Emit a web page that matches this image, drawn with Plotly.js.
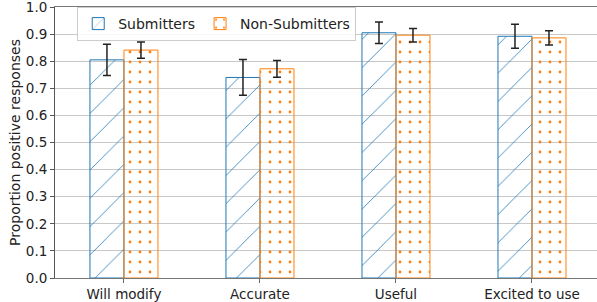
<!DOCTYPE html>
<html>
<head>
<meta charset="utf-8">
<script src="https://cdn.plot.ly/plotly-3.0.1.min.js"></script>
<style>html,body{margin:0;padding:0;background:#fff;}#chart{width:597px;height:302px;}</style>
</head>
<body>
<div id="chart"></div>
<script>
const categories = ["Will modify", "Accurate", "Useful", "Excited to use"];
const submitters = [0.805, 0.740, 0.905, 0.892];
const submittersErr = [0.058, 0.066, 0.040, 0.044];
const nonSubmitters = [0.841, 0.772, 0.896, 0.886];
const nonSubmittersErr = [0.030, 0.031, 0.025, 0.026];
const yTicks = [0, 0.1, 0.2, 0.3, 0.4, 0.5, 0.6, 0.7, 0.8, 0.9, 1.0];

const tickFont = {family: "DejaVu Sans", size: 13.5, color: "#222"};
const bigFont = {family: "DejaVu Sans", size: 14, color: "#222"};
const errStyle = {type: "data", visible: true, color: "#222", thickness: 1.5, width: 4};

const traces = [
  {
    type: "bar", name: "Submitters", x: categories, y: submitters,
    error_y: Object.assign({array: submittersErr}, errStyle),
    marker: {
      color: "rgba(0,0,0,0)",
      line: {color: "#1f77b4", width: 1},
      pattern: {shape: "/", size: 20, solidity: 0.04, fgcolor: "#1f77b4", bgcolor: "rgba(0,0,0,0)"}
    }
  },
  {
    type: "bar", name: "Non-Submitters", x: categories, y: nonSubmitters,
    error_y: Object.assign({array: nonSubmittersErr}, errStyle),
    marker: {
      color: "rgba(0,0,0,0)",
      line: {color: "#ff7f0e", width: 1},
      pattern: {shape: ".", size: 10, solidity: 0.06, fgcolor: "#ff7f0e", bgcolor: "rgba(0,0,0,0)"}
    }
  }
];

const layout = {
  width: 597, height: 302,
  margin: {l: 55, r: 0, t: 7, b: 24, pad: 0},
  paper_bgcolor: "#fff", plot_bgcolor: "#fff",
  font: bigFont,
  barmode: "group", bargap: 0.5, bargroupgap: 0,
  showlegend: true,
  legend: {
    orientation: "h", x: 0.041, y: 1.0, xanchor: "left", yanchor: "top",
    bgcolor: "rgba(255,255,255,0.85)", bordercolor: "#ccc", borderwidth: 1,
    font: bigFont, itemwidth: 30, traceorder: "normal"
  },
  xaxis: {
    type: "category", range: [-0.507, 3.478],
    showgrid: false, showline: true, linecolor: "#777", linewidth: 1, mirror: true,
    ticks: "outside", ticklen: 4, tickcolor: "#666", tickwidth: 1,
    tickfont: tickFont, zeroline: false
  },
  yaxis: {
    range: [0, 1.0], tickvals: yTicks, tickformat: ".1f",
    ticklabeloverflow: "allow",
    showgrid: true, gridcolor: "#c8c8c8", gridwidth: 1,
    showline: true, linecolor: "#555", linewidth: 1, mirror: false,
    ticks: "outside", ticklen: 4, tickcolor: "#555", tickwidth: 1,
    tickfont: tickFont, zeroline: false,
    title: {text: "Proportion positive responses", font: bigFont, standoff: 1}
  }
};

Plotly.newPlot("chart", traces, layout, {displayModeBar: false, staticPlot: true});
</script>
</body>
</html>
